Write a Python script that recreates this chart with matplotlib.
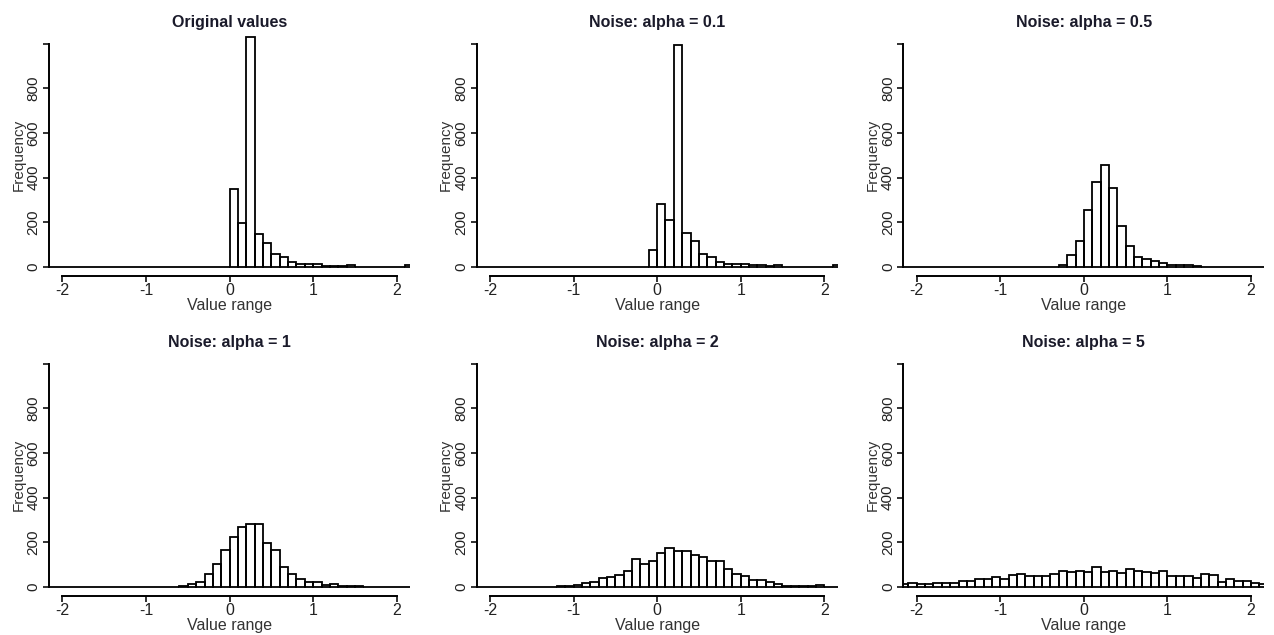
import numpy as np
import matplotlib.pyplot as plt

plt.rcParams["font.family"] = ["Liberation Sans", "DejaVu Sans"]

# ==========================================================
# Data: histogram counts (bin width 0.1), listed from a start edge
# ==========================================================

BIN_EDGES = np.round(np.arange(-2.2, 2.2001, 0.1), 1)

TITLES = [
    "Original values",
    "Noise: alpha = 0.1",
    "Noise: alpha = 0.5",
    "Noise: alpha = 1",
    "Noise: alpha = 2",
    "Noise: alpha = 5",
]

orig_start = 0.0
orig_counts = [350, 195, 1030, 145, 108, 58, 42, 22, 13, 13, 12, 5, 5, 2, 6,
               0, 0, 0, 0, 0, 0, 8]

a01_start = -0.1
a01_counts = [75, 281, 208, 995, 152, 116, 57, 44, 20, 13, 13, 13, 6, 6, 2, 6,
              0, 0, 0, 0, 0, 0, 8]

a05_start = -0.3
a05_counts = [8, 52, 117, 254, 378, 456, 354, 182, 94, 45, 33, 24, 16, 7, 6, 6, 5]

a1_start = -0.6
a1_counts = [5, 12, 19, 57, 100, 164, 221, 267, 282, 282, 194, 166, 87, 57, 34,
             21, 19, 6, 12, 5, 5, 5]

a2_start = -1.2
a2_counts = [5, 5, 6, 15, 22, 37, 45, 52, 72, 123, 102, 117, 150, 172, 160, 160,
             142, 135, 117, 117, 78, 57, 49, 30, 30, 19, 12, 5, 5, 5, 2, 6]

a5_start = -2.2
a5_counts = [12, 18, 10, 10, 18, 18, 18, 27, 27, 33, 33, 42, 35, 52, 57, 50, 50,
             50, 57, 72, 66, 72, 68, 87, 66, 70, 60, 78, 72, 66, 60, 72, 48, 48,
             48, 40, 57, 51, 20, 35, 25, 25, 18, 10]

STARTS = [orig_start, a01_start, a05_start, a1_start, a2_start, a5_start]
COUNTS = [orig_counts, a01_counts, a05_counts, a1_counts, a2_counts, a5_counts]

Y_TICKS = [0, 200, 400, 600, 800, 1000]
Y_LABELS = ["0", "200", "400", "600", "800", ""]
X_TICKS = [-2, -1, 0, 1, 2]
X_LABELS = ["-2", "-1", "0", "1", "2"]


def full_counts(start, counts):
    full = np.zeros(len(BIN_EDGES) - 1)
    i = int(round((start - BIN_EDGES[0]) / 0.1))
    full[i:i + len(counts)] = counts
    return full


# ==========================================================
# Figure
# ==========================================================

fig = plt.figure(figsize=(12.74, 6.35), dpi=100)

lefts = [0.0385, 0.3741, 0.7091]
bottoms = [0.566, 0.062]
width = 0.2834
height = 0.379

for k in range(6):
    row, col = divmod(k, 3)
    ax = fig.add_axes([lefts[col], bottoms[row], width, height])

    ax.bar(BIN_EDGES[:-1], full_counts(STARTS[k], COUNTS[k]), width=0.1,
           align="edge", fill=False, edgecolor="black", linewidth=1.3)

    ax.set_xlim(-2.16, 2.16)
    ax.set_ylim(-40, 1040)

    for side in ["top", "right"]:
        ax.spines[side].set_visible(False)
    ax.spines["bottom"].set_bounds(-2, 2)
    ax.spines["left"].set_bounds(0, 1000)
    ax.spines["bottom"].set_linewidth(1.4)
    ax.spines["left"].set_linewidth(1.4)

    ax.set_xticks(X_TICKS)
    ax.set_xticklabels(X_LABELS)
    ax.set_yticks(Y_TICKS)
    ax.set_yticklabels(Y_LABELS)
    ax.tick_params(axis="both", length=4, width=1.3, colors="#222222")
    ax.tick_params(axis="x", labelsize=11.5, pad=1)
    ax.tick_params(axis="y", labelsize=11, pad=2)
    for lab in ax.get_yticklabels():
        lab.set_rotation(90)
        lab.set_va("center")

    ax.set_title(TITLES[k], fontsize=11.5, fontweight="bold", pad=6,
                 color="#1a1a2a")
    ax.set_xlabel("Value range", fontsize=11.5, labelpad=0, color="#333333")
    ax.set_ylabel("Frequency", fontsize=11, labelpad=1, color="#333333")

fig.savefig("out.png", dpi=100)
